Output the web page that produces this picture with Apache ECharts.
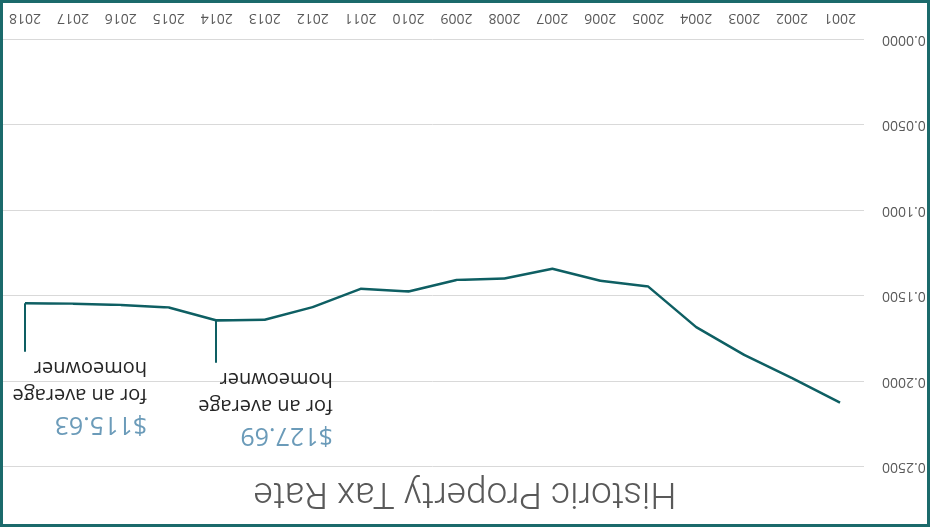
<!DOCTYPE html>
<html>
<head>
<meta charset="utf-8">
<title>Historic Property Tax Rate</title>
<script src="https://cdn.jsdelivr.net/npm/echarts@6/dist/echarts.min.js"></script>
<style>
    html, body { margin: 0; padding: 0; background: #fff; }
    /* the whole picture is turned upside down */
    #wrap { position: absolute; left: 0; top: 0; width: 942px; height: 529px; transform: rotate(180deg); background: #fff; }
    #taxChart { position: absolute; left: 12px; top: 0; width: 930px; height: 529px; }
    #frame { position: absolute; left: 12px; top: 2px; width: 930px; height: 527px; box-sizing: border-box; border: 3px solid #1b6a6b; pointer-events: none; }
</style>
</head>
<body>
<div id="wrap">
    <div id="taxChart"></div>
    <div id="frame"></div>
</div>
<script>
    // 数据
    var years = ['2001', '2002', '2003', '2004', '2005', '2006', '2007', '2008', '2009',
        '2010', '2011', '2012', '2013', '2014', '2015', '2016', '2017', '2018'];
    var rates = [0.2123, 0.1980, 0.1844, 0.1682, 0.1445, 0.1411, 0.1341, 0.1398, 0.1406,
        0.1474, 0.1458, 0.1565, 0.1639, 0.1643, 0.1567, 0.1552, 0.1546, 0.1542];
    var yTicks = [0, 0.05, 0.1, 0.15, 0.2, 0.25];

    // callouts
    var noteYears = ['2014', '2018'];
    var noteAmounts = ['$127.69', '$115.63'];
    var noteEnds = [0.189, 0.1826];
    var noteText = ['for an average', 'homeowner'];

    var lineColor = '#0e5f63';

    function rateOf(year) {
        return rates[years.indexOf(year)];
    }

    var leaderData = [],
        calloutData = [];

    noteYears.forEach(function (y, i) {
        leaderData.push([
            { coord: [y, rateOf(y)] },
            { coord: [y, noteEnds[i]] }
        ]);
        calloutData.push({
            coord: [y, noteEnds[i]],
            label: {
                offset: [i === 0 ? -116 : -122, 0]
            },
            amount: noteAmounts[i]
        });
    });

    var taxChart = echarts.init(document.getElementById('taxChart'));

    var taxOption = {
        animation: false,
        backgroundColor: 'transparent',
        title: {
            text: 'Historic Property Tax Rate',
            left: 'center',
            top: 13,
            textStyle: {
                fontFamily: 'Roboto',
                fontWeight: 300,
                fontSize: 37,
                color: '#595959'
            }
        },
        grid: {
            left: 66,
            right: 1,
            top: 62,
            bottom: 39.5,
            containLabel: false,
            outerBoundsMode: 'none'
        },
        xAxis: {
            type: 'category',
            data: years,
            boundaryGap: true,
            axisLine: { show: false },
            axisTick: { show: false },
            axisLabel: {
                margin: 15,
                fontFamily: 'Open Sans',
                fontSize: 14,
                color: '#595959'
            }
        },
        yAxis: {
            type: 'value',
            min: yTicks[0],
            max: yTicks[yTicks.length - 1],
            interval: 0.05,
            axisLine: { show: false },
            axisTick: { show: false },
            axisLabel: {
                margin: 18,
                fontFamily: 'Open Sans',
                fontSize: 14,
                color: '#595959',
                formatter: function (v) {
                    return v.toFixed(4);
                }
            },
            splitLine: {
                lineStyle: { color: '#d9d9d9', width: 1 }
            }
        },
        series: [{
            name: 'Tax Rate',
            type: 'line',
            data: rates,
            symbol: 'none',
            smooth: false,
            lineStyle: { color: lineColor, width: 2.5 },
            itemStyle: { color: lineColor },
            markLine: {
                silent: true,
                symbol: ['none', 'none'],
                label: { show: false },
                lineStyle: { color: lineColor, width: 2, type: 'solid' },
                data: leaderData
            },
            markPoint: {
                silent: true,
                symbol: 'circle',
                symbolSize: 1,
                itemStyle: { color: 'rgba(0,0,0,0)' },
                label: {
                    show: true,
                    position: 'top',
                    distance: 2,
                    align: 'left',
                    formatter: function (p) {
                        return '{amt|' + p.data.amount + '}\n{txt|' + noteText[0] + '}\n{txt|' + noteText[1] + '}';
                    },
                    rich: {
                        amt: {
                            fontFamily: 'Open Sans',
                            fontSize: 25,
                            lineHeight: 31,
                            color: '#6b9bb9'
                        },
                        txt: {
                            fontFamily: 'Open Sans',
                            fontSize: 20,
                            lineHeight: 27,
                            color: '#262626'
                        }
                    }
                },
                data: calloutData
            }
        }]
    };

    taxChart.setOption(taxOption);
</script>
</body>
</html>
